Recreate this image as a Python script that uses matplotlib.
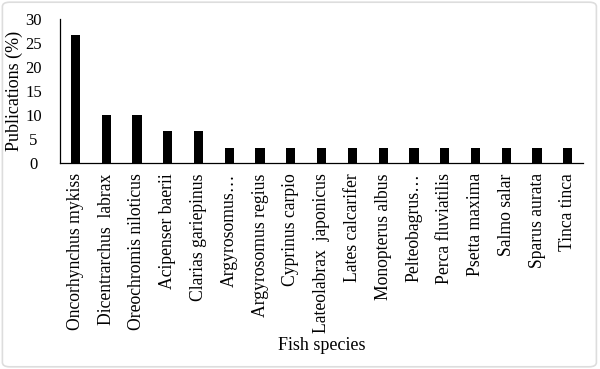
import matplotlib.pyplot as plt
from matplotlib.patches import FancyBboxPatch

species = ['Oncorhynchus mykiss', 'Dicentrarchus  labrax', 'Oreochromis niloticus',
           'Acipenser baerii', 'Clarias gariepinus', 'Argyrosomus…',
           'Argyrosomus regius', 'Cyprinus carpio', 'Lateolabrax  japonicus',
           'Lates calcarifer', 'Monopterus albus', 'Pelteobagrus…',
           'Perca fluviatilis', 'Psetta maxima', 'Salmo salar',
           'Sparus aurata', 'Tinca tinca']
percent = [26.7, 10, 10, 6.7, 6.7, 3.3, 3.3, 3.3, 3.3, 3.3, 3.3, 3.3,
           3.3, 3.3, 3.3, 3.3, 3.3]
yticks = [0, 5, 10, 15, 20, 25, 30]

plt.rcParams['font.family'] = ['Liberation Serif', 'DejaVu Serif']

fig = plt.figure(figsize=(6, 3.69), dpi=100)
ax = fig.add_axes([0.1, 0.557, 0.872, 0.3915])

# light rounded frame around the whole picture
frame = FancyBboxPatch((0.004, 0.006), 0.99, 0.988, boxstyle='round,pad=0,rounding_size=0.012',
                       transform=fig.transFigure, facecolor='none', edgecolor='#dddddd',
                       linewidth=1.2)
fig.patches.append(frame)

x = range(len(species))
ax.bar(x, percent, width=0.3, color='black')

ax.set_xlim(-0.5, len(species) - 0.5)
ax.set_ylim(0, 30)
ax.set_yticks(yticks)
ax.set_xticks(list(x))
ax.set_xticklabels(species, rotation=90, fontsize=12.7)
ax.set_yticklabels([str(v) for v in yticks], fontsize=12, ha='center')
ax.tick_params(axis='y', length=0, pad=19)
ax.tick_params(axis='x', length=0, pad=7)
ax.spines['top'].set_visible(False)
ax.spines['right'].set_visible(False)
ax.spines['left'].set_linewidth(0.9)
ax.spines['bottom'].set_linewidth(0.9)

ax.set_ylabel('Publications (%)', fontsize=13)
ax.yaxis.set_label_coords(-0.071, 0.5)
ax.set_xlabel('Fish species', fontsize=13)
ax.xaxis.set_label_coords(0.5, -1.2)

fig.savefig('out.png', dpi=100)
